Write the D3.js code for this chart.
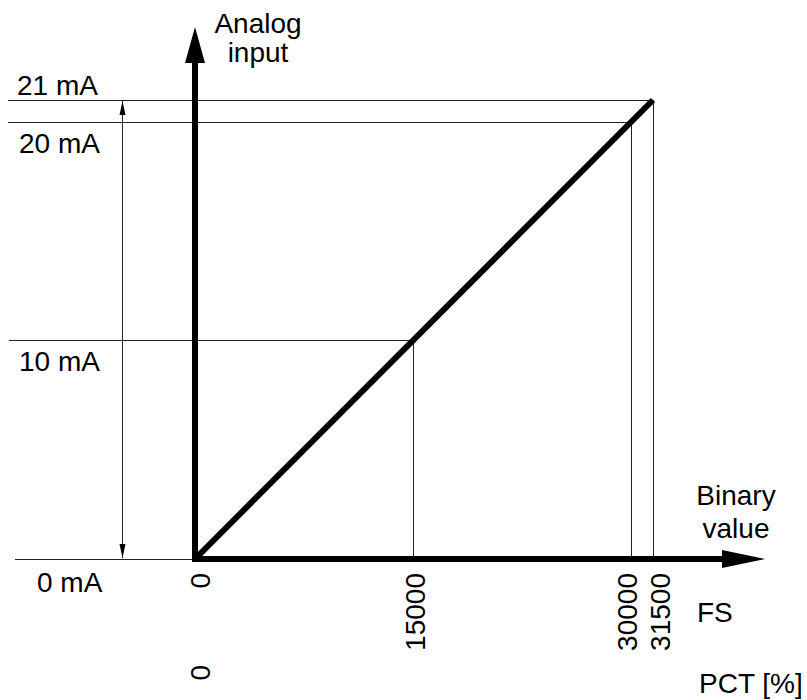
<!DOCTYPE html>
<html>
<head>
<meta charset="utf-8">
<script src="https://cdn.jsdelivr.net/npm/d3@7"></script>
<style>
  body { margin: 0; background: #fff; }
  text { font-family: "Liberation Sans", Arial, sans-serif; fill: #000; }
</style>
</head>
<body>
<svg id="chart" width="807" height="700"></svg>
<script>
// binary value ticks (FS) and the analog current levels
const binaryTicks = [0, 15000, 30000, 31500];
const binaryLabels = ["0", "15000", "30000", "31500"];
const pctLabels = ["0"];
const currentLevels = [0, 10, 20, 21];
const currentLabels = ["0 mA", "10 mA", "20 mA", "21 mA"];
// characteristic line: binary value -> current
const characteristic = [
  {binary: 0, mA: 0},
  {binary: 31500, mA: 21}
];
// marked points on the characteristic
const markers = [
  {binary: 15000, mA: 10},
  {binary: 30000, mA: 20},
  {binary: 31500, mA: 21}
];

const svg = d3.select("#chart");
const fontSize = "28px";

const x = d3.scaleLinear().domain([0, 31500]).range([195, 653]);
const y = d3.scaleLinear().domain([0, 21]).range([559, 100]);

const x0 = x(0), y0 = y(0);

svg.append("defs").append("marker")
    .attr("id", "thinArrow")
    .attr("viewBox", "0 0 14 8")
    .attr("refX", 14).attr("refY", 4)
    .attr("markerWidth", 14).attr("markerHeight", 8)
    .attr("markerUnits", "userSpaceOnUse")
    .attr("orient", "auto-start-reverse")
  .append("path")
    .attr("d", "M0,1 L14,4 L0,7 Z")
    .attr("fill", "#000");

// horizontal guide lines for the current levels
const hLeft = {0: 15, 10: 9, 20: 8, 21: 8};
svg.selectAll(".hguide")
  .data(currentLevels)
  .enter().append("line")
    .attr("class", "hguide")
    .attr("x1", d => hLeft[d])
    .attr("x2", d => {
      const m = markers.find(p => p.mA === d);
      return m ? x(m.binary) : x0;
    })
    .attr("y1", d => Math.round(y(d)) + 0.5)
    .attr("y2", d => Math.round(y(d)) + 0.5)
    .attr("stroke", "#222")
    .attr("stroke-width", 1);

// vertical guide lines down to the binary axis
svg.selectAll(".vguide")
  .data(markers)
  .enter().append("line")
    .attr("class", "vguide")
    .attr("x1", d => Math.round(x(d.binary)) + 0.5)
    .attr("x2", d => Math.round(x(d.binary)) + 0.5)
    .attr("y1", d => y(d.mA))
    .attr("y2", y0)
    .attr("stroke", "#222")
    .attr("stroke-width", 1);

// dimension arrow 0 .. 21 mA
svg.append("line")
    .attr("x1", 122.5).attr("x2", 122.5)
    .attr("y1", y(0) - 1).attr("y2", y(21) + 1)
    .attr("stroke", "#222")
    .attr("stroke-width", 1)
    .attr("marker-start", "url(#thinArrow)")
    .attr("marker-end", "url(#thinArrow)");

// thick axes with arrow heads
svg.append("line")
    .attr("x1", x0).attr("x2", x0)
    .attr("y1", y0 + 3).attr("y2", 60)
    .attr("stroke", "#000").attr("stroke-width", 6);
svg.append("path")
    .attr("d", `M${x0},27 L${x0 + 10},63 L${x0 - 10},63 Z`)
    .attr("fill", "#000");

svg.append("line")
    .attr("x1", x0 - 3).attr("x2", 725)
    .attr("y1", y0).attr("y2", y0)
    .attr("stroke", "#000").attr("stroke-width", 6);
svg.append("path")
    .attr("d", `M765,${y0} L722,${y0 - 9} L722,${y0 + 9} Z`)
    .attr("fill", "#000");

// characteristic line
const line = d3.line().x(d => x(d.binary)).y(d => y(d.mA));
svg.append("path")
    .datum(characteristic)
    .attr("d", line)
    .attr("fill", "none")
    .attr("stroke", "#000")
    .attr("stroke-width", 6)
    .attr("stroke-linecap", "butt");

// current labels
const labelDx = {0: 37, 10: 19, 20: 19, 21: 17};
const labelDy = {0: 33, 10: 31, 20: 31, 21: -5};
svg.selectAll(".ylabel")
  .data(currentLevels)
  .enter().append("text")
    .attr("class", "ylabel")
    .attr("x", d => labelDx[d])
    .attr("y", d => y(d) + labelDy[d])
    .attr("font-size", fontSize)
    .text((d, i) => currentLabels[i]);

// binary labels, rotated
const tickShift = {0: 3, 15000: 0, 30000: -6, 31500: 5};
svg.selectAll(".xlabel")
  .data(binaryTicks)
  .enter().append("text")
    .attr("class", "xlabel")
    .attr("transform", d => `translate(${x(d) + tickShift[d] + 12},${y0 + 14}) rotate(-90)`)
    .attr("text-anchor", "end")
    .attr("font-size", fontSize)
    .text((d, i) => binaryLabels[i]);

svg.selectAll(".pctlabel")
  .data(pctLabels)
  .enter().append("text")
    .attr("class", "pctlabel")
    .attr("transform", `translate(${x0 + 15},${y0 + 106}) rotate(-90)`)
    .attr("text-anchor", "end")
    .attr("font-size", fontSize)
    .text(d => d);

// axis titles
const yTitle = svg.append("text")
    .attr("text-anchor", "middle")
    .attr("font-size", fontSize);
yTitle.append("tspan").attr("x", 258).attr("y", 33).text("Analog");
yTitle.append("tspan").attr("x", 258).attr("y", 62).text("input");

const xTitle = svg.append("text")
    .attr("text-anchor", "middle")
    .attr("font-size", fontSize);
xTitle.append("tspan").attr("x", 736).attr("y", 505).text("Binary");
xTitle.append("tspan").attr("x", 736).attr("y", 538).text("value");

svg.append("text")
    .attr("x", 697).attr("y", 622)
    .attr("font-size", fontSize)
    .text("FS");

svg.append("text")
    .attr("x", 699).attr("y", 693)
    .attr("font-size", fontSize)
    .text("PCT [%]");
</script>
</body>
</html>
